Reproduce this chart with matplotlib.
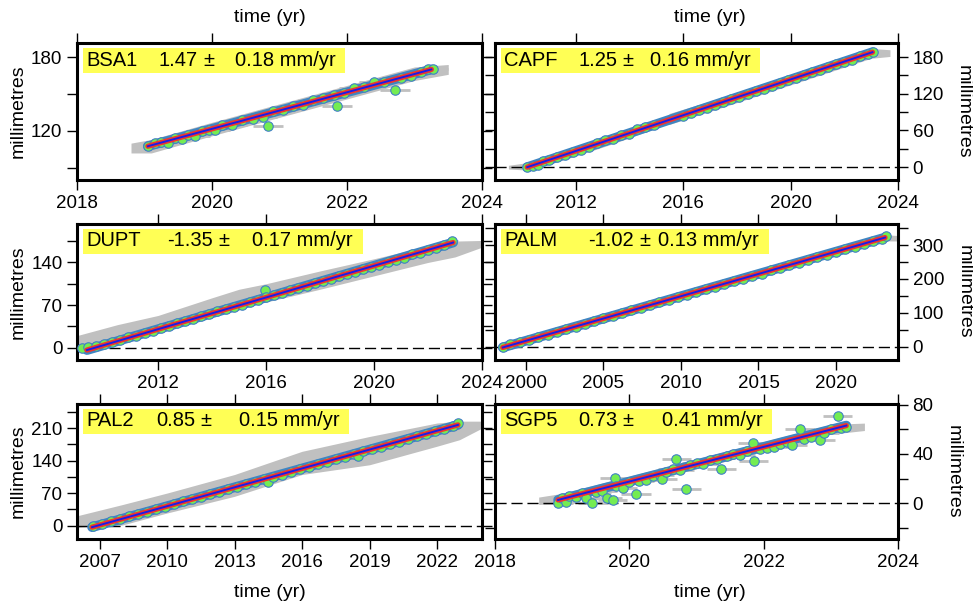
import matplotlib
matplotlib.use('Agg')
import matplotlib.pyplot as plt
from matplotlib.patches import Rectangle
from matplotlib.ticker import MultipleLocator

plt.rcParams['font.family'] = ['Liberation Sans', 'DejaVu Sans']

# ---- station values (years, millimetres) ----
bsa1_t = [2019.05, 2019.15, 2019.25, 2019.35, 2019.45, 2019.55, 2019.65, 2019.75, 2019.85,
          2019.95, 2020.05, 2020.15, 2020.3, 2020.45, 2020.6, 2020.75, 2020.83, 2020.9,
          2021.05, 2021.2, 2021.35, 2021.5, 2021.65, 2021.8, 2021.85, 2021.95, 2022.1,
          2022.25, 2022.4, 2022.55, 2022.71, 2022.8, 2022.95, 2023.1, 2023.2, 2023.27]
bsa1_y = [108, 110, 111, 110, 114, 113, 117, 116, 120, 121, 121, 125, 125, 129, 130, 131,
          124, 136, 137, 140, 141, 145, 147, 149, 140.5, 151, 155, 156, 160, 160, 153, 163,
          165, 168, 170, 170]
bsa1_band_t = [2018.8, 2019.1, 2020.0, 2021.0, 2022.0, 2023.0, 2023.5]
bsa1_band_lo = [102, 102, 116, 131, 146, 161, 166]
bsa1_band_hi = [110, 113, 127, 142, 157, 172, 174]
bsa1_fit_t = [2019.05, 2023.25]
bsa1_fit_y = [107.5, 170]

capf_t = [2010.2, 2010.4, 2010.6, 2010.8, 2011.0, 2011.3, 2011.6, 2011.9, 2012.2, 2012.5,
          2012.8, 2013.1, 2013.4, 2013.7, 2014.0, 2014.3, 2014.6, 2014.9, 2016.0, 2016.3,
          2016.6, 2016.9, 2017.2, 2017.5, 2017.8, 2018.1, 2018.4, 2018.7, 2019.0, 2019.3,
          2019.6, 2019.9, 2020.2, 2020.5, 2020.8, 2021.1, 2021.4, 2021.7, 2022.0, 2022.3,
          2022.6, 2022.9, 2023.07]
capf_y = [0, 2, 4, 10, 12, 16, 20, 25, 28, 33, 39, 44, 46, 52, 55, 62, 66, 69, 84, 89,
          93, 97, 102, 107, 111, 115, 120, 124, 128, 133, 137, 142, 145, 151, 155, 159,
          163, 168, 172, 176, 181, 185, 189]
capf_band_t = [2009.5, 2010.3, 2012.0, 2013.5, 2014.9, 2015.2, 2015.5, 2017.0, 2019.0,
               2021.0, 2023.0, 2023.7]
capf_band_lo = [-3, -5, 18, 40, 62, 72, 70, 91, 120, 149, 178, 181]
capf_band_hi = [3, 8, 33, 56, 76, 74, 88, 108, 137, 166, 194, 192]
capf_fit_t = [2010.2, 2023.05]
capf_fit_y = [0, 188]

dupt_t = [2009.2, 2009.4, 2009.7, 2010.0, 2010.3, 2010.6, 2010.9, 2011.2, 2011.5, 2011.8,
          2012.1, 2012.4, 2012.7, 2013.0, 2013.3, 2013.6, 2013.9, 2014.2, 2014.5, 2014.8,
          2015.1, 2015.4, 2015.7, 2015.96, 2016.0, 2016.3, 2016.6, 2016.9, 2017.2, 2017.5,
          2017.8, 2018.1, 2018.4, 2018.7, 2019.0, 2019.3, 2019.6, 2019.9, 2020.2, 2020.5,
          2020.8, 2021.1, 2021.4, 2021.7, 2022.0, 2022.3, 2022.6, 2022.9]
dupt_y = [0, 1, 3, 6, 9, 13, 17, 20, 24, 28, 32, 36, 40, 44, 47, 52, 55, 60, 64, 67,
          71, 75, 78, 94, 83, 86, 90, 94, 98, 101, 106, 109, 113, 117, 121, 125, 129, 133,
          136, 141, 144, 148, 153, 156, 160, 164, 168, 175]
dupt_band_t = [2009.0, 2010.5, 2012.0, 2014.0, 2015.0, 2016.0, 2018.0, 2020.0, 2022.0,
               2023.0, 2024.0]
dupt_band_lo = [-4, 10, 26, 56, 67, 75, 96, 118, 140, 149, 165]
dupt_band_hi = [20, 38, 53, 82, 96, 105, 126, 146, 167, 175, 176]
dupt_fit_t = [2009.37, 2022.93]
dupt_fit_y = [-3.7, 172.6]

palm_t = [1998.5, 1999.0, 1999.6, 2000.2, 2000.8, 2001.4, 2002.0, 2002.6, 2003.2, 2003.8,
          2004.4, 2005.0, 2005.6, 2006.2, 2006.8, 2007.4, 2008.0, 2008.6, 2009.2, 2009.8,
          2010.4, 2011.0, 2011.6, 2012.2, 2012.8, 2013.4, 2014.0, 2014.6, 2015.2, 2015.8,
          2016.4, 2017.0, 2017.6, 2018.2, 2018.8, 2019.4, 2020.0, 2020.6, 2021.2, 2021.8,
          2022.4, 2023.0, 2023.2]
palm_y = [0, 8, 14, 21, 28, 36, 44, 52, 59, 68, 76, 84, 91, 99, 107, 115, 122, 131, 138,
          146, 153, 162, 170, 177, 186, 193, 201, 209, 216, 225, 233, 240, 248, 256, 264,
          272, 280, 287, 295, 303, 312, 319, 328]
palm_band_t = [1998.4, 2000.0, 2005.0, 2010.0, 2015.0, 2020.0, 2023.2, 2024.0]
palm_band_lo = [-8, 8, 74, 140, 204, 270, 312, 312]
palm_band_hi = [10, 30, 96, 161, 226, 291, 330, 328]
palm_fit_t = [1998.5, 2023.16]
palm_fit_y = [-2, 322]

pal2_t = [2006.7, 2007.1, 2007.5, 2007.9, 2008.3, 2008.7, 2009.1, 2009.5, 2009.9, 2010.3,
          2010.7, 2011.1, 2011.5, 2011.9, 2012.3, 2012.7, 2013.1, 2013.5, 2013.9, 2014.3,
          2014.5, 2014.7, 2015.1, 2015.5, 2015.9, 2016.3, 2016.7, 2017.1, 2017.5, 2017.9,
          2018.3, 2018.5, 2018.7, 2019.1, 2019.5, 2019.9, 2020.3, 2020.7, 2021.1, 2021.5,
          2021.9, 2022.3, 2022.7, 2022.95]
pal2_y = [0, 4, 9, 14, 20, 25, 30, 35, 41, 46, 52, 57, 62, 67, 73, 78, 84, 89, 94, 100,
          93, 105, 110, 116, 121, 127, 132, 138, 143, 148, 154, 149, 160, 165, 170, 176,
          181, 186, 192, 197, 203, 208, 214, 221]
pal2_band_t = [2006.0, 2008.0, 2010.0, 2013.0, 2016.0, 2019.0, 2022.0, 2023.0, 2024.0]
pal2_band_lo = [-4, 1, 27, 63, 110, 131, 171, 185, 210]
pal2_band_hi = [21, 45, 70, 110, 160, 192, 221, 225, 225]
pal2_fit_t = [2006.67, 2022.93]
pal2_fit_y = [-3.5, 217]

sgp5_t = [2018.94, 2019.0, 2019.05, 2019.1, 2019.2, 2019.3, 2019.35, 2019.45, 2019.5,
          2019.6, 2019.67, 2019.75, 2019.79, 2019.8, 2019.9, 2020.0, 2020.1, 2020.15,
          2020.25, 2020.35, 2020.45, 2020.49, 2020.55, 2020.65, 2020.7, 2020.75, 2020.85,
          2020.9, 2021.0, 2021.1, 2021.2, 2021.3, 2021.37, 2021.45, 2021.55, 2021.65,
          2021.75, 2021.84, 2021.85, 2021.95, 2022.05, 2022.15, 2022.25, 2022.35, 2022.42,
          2022.54, 2022.6, 2022.7, 2022.84, 2022.9, 2023.0, 2023.1, 2023.15, 2023.23]
sgp5_y = [0, 4, 1, 6, 5, 8, 4, 0, 9, 10, 4, 2.5, 20.6, 14, 12, 17, 7.6, 18, 19, 22, 23,
          19.6, 25, 28, 36, 27, 11.7, 31, 33, 32, 35, 36, 28, 38, 40, 39, 42, 49, 34, 44,
          45, 46, 48, 50, 47.6, 60, 52, 54, 51.7, 57, 60, 71, 61, 62]
sgp5_band_t = [2018.65, 2019.0, 2020.0, 2021.0, 2022.0, 2023.0, 2023.5]
sgp5_band_lo = [-1, 0, 14, 28, 42, 56, 59]
sgp5_band_hi = [5, 8, 22, 36, 50, 64, 65]
sgp5_fit_t = [2018.94, 2023.23]
sgp5_fit_y = [2.7, 63]

names = ['BSA1', 'CAPF', 'DUPT', 'PALM', 'PAL2', 'SGP5']
rates = ['1.47', '1.25', '-1.35', '-1.02', '0.85', '0.73']
errs = ['0.18', '0.16', '0.17', '0.13', '0.15', '0.41']

stations = [
    (bsa1_t, bsa1_y, bsa1_band_t, bsa1_band_lo, bsa1_band_hi, bsa1_fit_t, bsa1_fit_y),
    (capf_t, capf_y, capf_band_t, capf_band_lo, capf_band_hi, capf_fit_t, capf_fit_y),
    (dupt_t, dupt_y, dupt_band_t, dupt_band_lo, dupt_band_hi, dupt_fit_t, dupt_fit_y),
    (palm_t, palm_y, palm_band_t, palm_band_lo, palm_band_hi, palm_fit_t, palm_fit_y),
    (pal2_t, pal2_y, pal2_band_t, pal2_band_lo, pal2_band_hi, pal2_fit_t, pal2_fit_y),
    (sgp5_t, sgp5_y, sgp5_band_t, sgp5_band_lo, sgp5_band_hi, sgp5_fit_t, sgp5_fit_y),
]

# axis settings per panel
xlims = [(2018, 2024), (2009, 2024), (2009, 2024), (1998, 2024), (2006, 2024), (2018, 2024)]
ylims = [(80, 191.5), (-21, 203), (-20, 203), (-39, 362), (-29, 262), (-29, 80.5)]
xsteps = [2, 4, 4, 5, 3, 2]
ysteps = [60, 60, 70, 100, 70, 40]

# label box layout, pixel offsets from the panel's top-left corner:
# name left, rate right end, plus-minus left, error+unit left
box_right = [268, 265, 286, 274, 272, 277]
token_x = [(9, 121, 126, 158),
           (9, 122, 127, 155),
           (9, 136, 141, 175),
           (9, 139, 144, 163),
           (9, 118, 123, 162),
           (9, 122, 127, 167)]
token_ha = ['left', 'right', 'left', 'left']

fig = plt.figure(figsize=(9.73, 6.07), dpi=100)
W, H = 973.0, 607.0
cols = [(77, 482), (495, 898)]
rows = [(43, 180), (224, 360), (404, 539)]

grey = '#c0c0c0'
fs_tick = 13.5
fs_lab = 14

for i, (t, y, bt, blo, bhi, ft, fy) in enumerate(stations):
    r, c = i // 2, i % 2
    x0, x1 = cols[c]
    y0, y1 = rows[r]
    pw, ph = x1 - x0, y1 - y0
    ax = fig.add_axes([x0 / W, 1 - y1 / H, pw / W, ph / H])

    ax.fill_between(bt, blo, bhi, color=grey, lw=0, zorder=1)
    ax.errorbar(t, y, xerr=0.22, fmt='none', ecolor=grey, elinewidth=2, zorder=1.5)
    ax.axhline(0, color='black', lw=1.0, ls=(0, (8, 3.5)), zorder=2)
    ax.plot(ft, fy, color='#3f86c2', lw=7.0, solid_capstyle='round', zorder=2.5)
    ax.plot(t, y, 'o', ms=6.8, mfc='#74ec52', mec='#3f7fc6', mew=0.8, zorder=3)
    ax.plot(ft, fy, color='#f2352b', lw=3.8, solid_capstyle='round', zorder=4)
    ax.plot(ft, fy, color='#1c1ce8', lw=1.4, zorder=5)

    # yellow label box with the rate
    ax.add_patch(Rectangle((6 / pw, 1 - 30 / ph), (box_right[i] - 6) / pw, 25 / ph,
                           transform=ax.transAxes, facecolor='#ffff55', edgecolor='none',
                           zorder=6, clip_on=False))
    tokens = [names[i], rates[i], '\u00b1', errs[i] + ' mm/yr']
    for tx, ha, tok in zip(token_x[i], token_ha, tokens):
        ax.text(tx / pw, 1 - 22.5 / ph, tok, transform=ax.transAxes, fontsize=14.5,
                ha=ha, va='baseline', zorder=7)

    ax.set_xlim(*xlims[i])
    ax.set_ylim(*ylims[i])
    ax.xaxis.set_major_locator(MultipleLocator(xsteps[i]))
    ax.yaxis.set_major_locator(MultipleLocator(ysteps[i]))
    ax.yaxis.set_minor_locator(MultipleLocator(ysteps[i] / 2))
    ax.tick_params(which='both', direction='out', length=7, width=1,
                   top=True, right=True, labelsize=fs_tick)
    for sp in ax.spines.values():
        sp.set_linewidth(2.2)

    if c == 1:
        ax.tick_params(labelleft=False, labelright=True)
        ax.yaxis.set_label_position('right')
        ax.set_ylabel('millimetres', fontsize=fs_lab, rotation=270, va='bottom', labelpad=8)
    else:
        ax.set_ylabel('millimetres', fontsize=fs_lab, labelpad=3)

    xl_x = 0.477 if c == 0 else 0.533
    if r == 0:
        ax.xaxis.set_label_position('top')
        ax.set_xlabel('time (yr)', fontsize=fs_lab, labelpad=8, x=xl_x)
    elif r == 2:
        ax.set_xlabel('time (yr)', fontsize=fs_lab, labelpad=10, x=xl_x)

fig.savefig('out.png', dpi=100)
